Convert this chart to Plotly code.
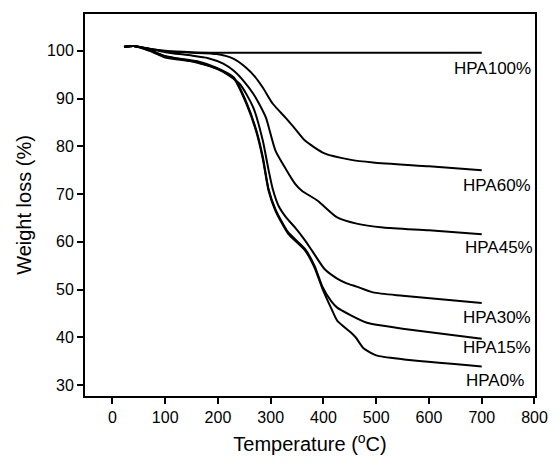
import plotly.graph_objects as go

# ---- data ----
hpa100_t = [22, 40, 60, 100, 150, 200, 300, 400, 500, 600, 700]
hpa100_w = [100.9, 101.0, 100.6, 100.0, 99.7, 99.6, 99.6, 99.6, 99.6, 99.6, 99.6]

hpa60_t = [22, 40, 70, 100, 150, 198, 230, 254, 270, 285, 304, 328, 346, 365, 402, 450, 494, 600, 700]
hpa60_w = [100.8, 101.0, 100.4, 99.9, 99.6, 99.3, 98.3, 96.4, 94.6, 92.3, 88.9, 86.0, 83.7, 81.2, 78.5, 77.2, 76.6, 75.8, 75.0]

hpa45_t = [22, 40, 70, 100, 150, 180, 210, 230, 250, 267, 280, 291, 309, 330, 346, 359, 389, 426, 463, 513, 600, 700]
hpa45_w = [100.8, 101.0, 100.4, 99.7, 99.0, 98.5, 97.3, 95.8, 93.5, 91.0, 88.5, 86.0, 79.1, 75.0, 72.2, 70.7, 68.6, 65.1, 63.8, 63.0, 62.4, 61.6]

hpa30_t = [22, 40, 70, 100, 150, 200, 241, 267, 285, 296, 304, 315, 330, 346, 365, 378, 402, 426, 444, 463, 494, 550, 700]
hpa30_w = [100.8, 101.0, 100.2, 98.9, 97.8, 96.2, 93.1, 88.1, 81.2, 75.0, 71.0, 67.5, 65.0, 63.0, 60.3, 58.2, 54.3, 52.3, 51.3, 50.6, 49.4, 48.7, 47.2]

hpa15_t = [22, 40, 70, 100, 161, 198, 230, 254, 272, 285, 296, 309, 333, 365, 383, 398, 415, 426, 452, 481, 507, 550, 700]
hpa15_w = [100.8, 101.0, 100.1, 98.8, 97.8, 96.4, 94.4, 89.2, 83.6, 77.8, 71.0, 66.8, 62.0, 58.5, 55.0, 50.6, 47.5, 46.2, 44.6, 43.1, 42.5, 41.8, 39.7]

hpa0_t = [22, 40, 70, 100, 161, 198, 230, 254, 272, 285, 296, 309, 333, 365, 383, 398, 415, 426, 452, 461, 476, 500, 550, 700]
hpa0_w = [100.8, 101.0, 100.0, 98.6, 97.6, 96.2, 94.2, 88.9, 83.3, 77.4, 70.7, 66.5, 61.7, 58.2, 54.6, 50.2, 46.0, 43.5, 41.0, 40.0, 37.7, 36.2, 35.4, 33.9]

labels = ["HPA100%", "HPA60%", "HPA45%", "HPA30%", "HPA15%", "HPA0%"]
label_x = [643, 661, 665, 661, 661, 667]
label_y = [96.2, 71.8, 58.8, 44.2, 37.9, 31.0]

x_ticks = [0, 100, 200, 300, 400, 500, 600, 700, 800]
y_ticks = [30, 40, 50, 60, 70, 80, 90, 100]

FONT = "Liberation Sans, Arial, sans-serif"

fig = go.Figure()
for t, w in [(hpa100_t, hpa100_w), (hpa60_t, hpa60_w), (hpa45_t, hpa45_w),
             (hpa30_t, hpa30_w), (hpa15_t, hpa15_w), (hpa0_t, hpa0_w)]:
    fig.add_trace(go.Scatter(x=t, y=w, mode="lines",
                             line=dict(color="black", width=2, shape="spline", smoothing=0.6),
                             showlegend=False, hoverinfo="skip"))

for txt, lx, ly in zip(labels, label_x, label_y):
    fig.add_annotation(x=lx, y=ly, text=txt, showarrow=False, xanchor="left", yanchor="middle",
                       font=dict(family=FONT, size=17, color="black"))

axis_common = dict(showgrid=False, zeroline=False, showline=True, linecolor="black", linewidth=2,
                   mirror=True, ticks="outside", ticklen=6, tickwidth=2, tickcolor="black",
                   tickfont=dict(family=FONT, size=16, color="black"))

fig.update_xaxes(range=[-52, 801], tickvals=x_ticks, ticktext=[str(v) for v in x_ticks],
                 title=dict(text="Temperature (<sup>o</sup>C)", font=dict(family=FONT, size=20, color="black"),
                            standoff=12),
                 **axis_common)
fig.update_yaxes(range=[27.7, 107.7], tickvals=y_ticks, ticktext=[str(v) for v in y_ticks],
                 title=dict(text="Weight loss (%)", font=dict(family=FONT, size=20, color="black"),
                            standoff=10),
                 **axis_common)

fig.update_layout(width=560, height=468, margin=dict(l=85, r=14, t=13, b=72),
                  plot_bgcolor="white", paper_bgcolor="white")

fig.write_html("out.html")
